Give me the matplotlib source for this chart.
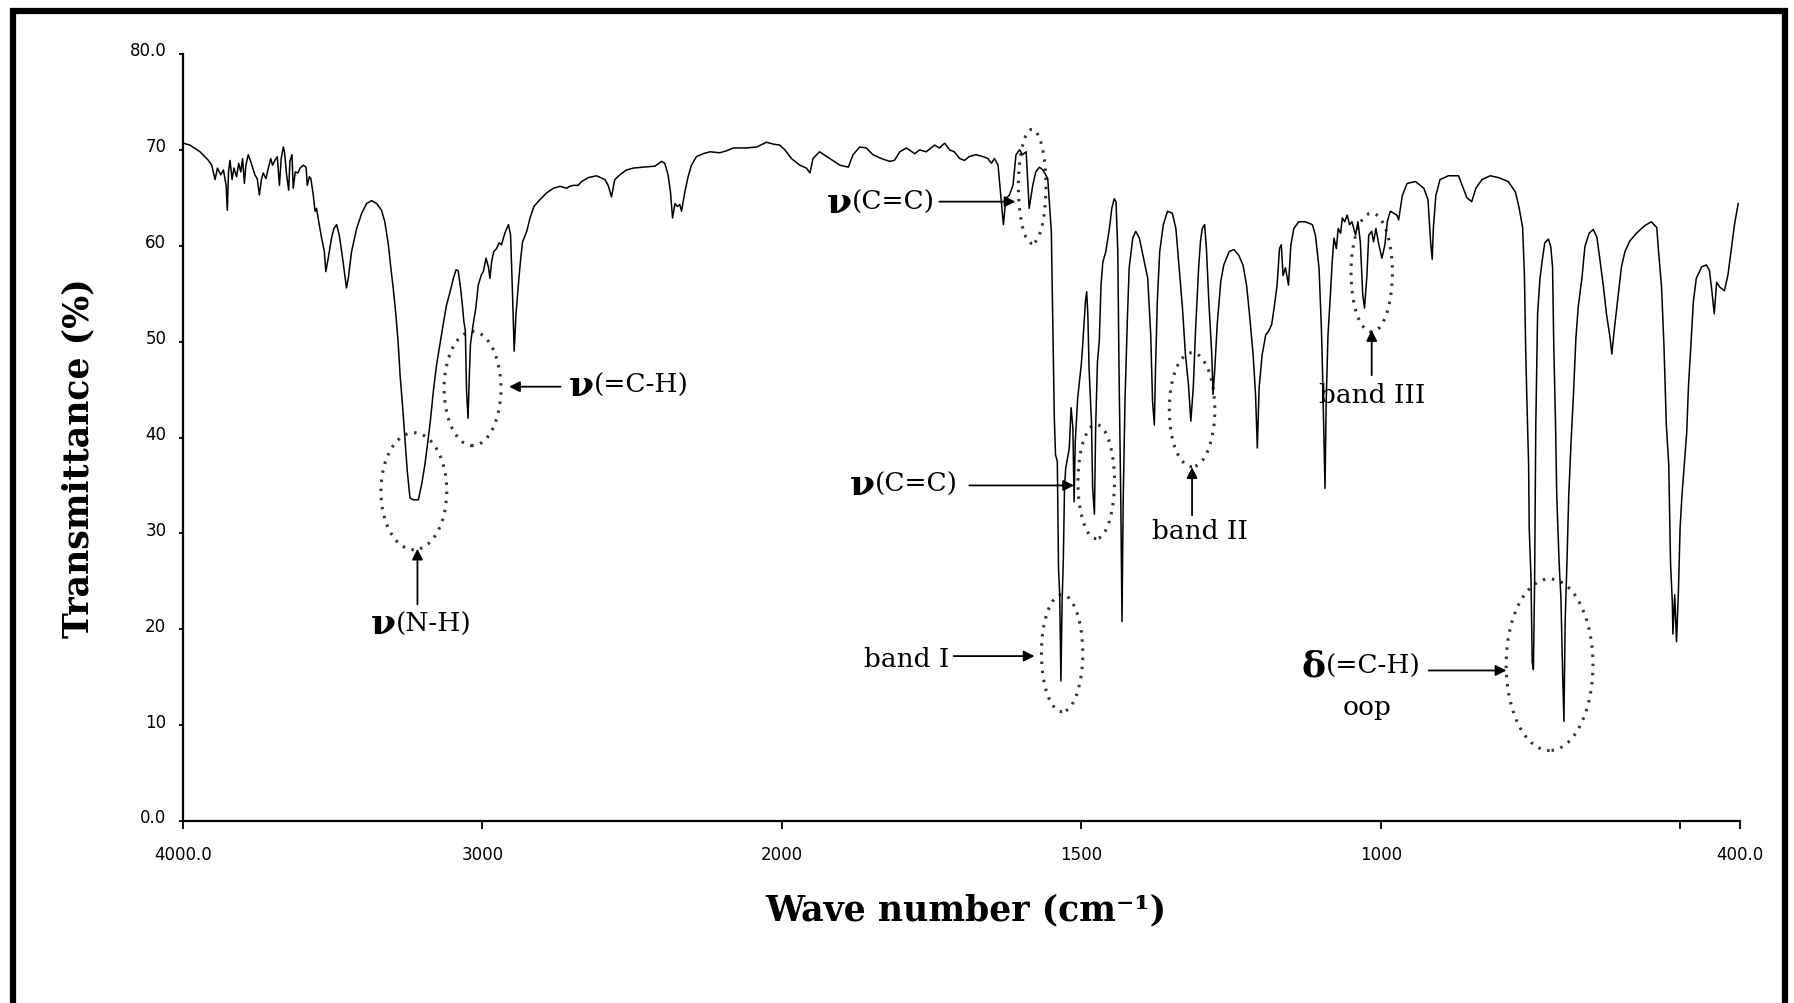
import matplotlib.pyplot as plt
import numpy as np
from matplotlib.patches import Ellipse
from matplotlib.lines import Line2D
from matplotlib.transforms import ScaledTranslation

# IR spectrum (wave number in cm-1, transmittance in %)
wavenumber = [
    3999, 3977, 3943, 3915, 3904, 3893, 3885, 3874, 3865, 3856, 3852, 3848, 3843, 3836, 3830,
    3821, 3814, 3807, 3801, 3795, 3790, 3782, 3774, 3767, 3760, 3752, 3745, 3738, 3732, 3723,
    3715, 3707, 3701, 3693, 3685, 3678, 3672, 3665, 3661, 3654, 3647, 3643, 3636, 3632, 3625,
    3616, 3609, 3598, 3589, 3585, 3578, 3573, 3565, 3559, 3554, 3545, 3537, 3528, 3523, 3515,
    3504, 3496, 3487, 3478, 3467, 3454, 3448, 3437, 3420, 3403, 3387, 3370, 3353, 3337, 3326,
    3314, 3307, 3298, 3289, 3281, 3275, 3267, 3259, 3251, 3242, 3231, 3214, 3203, 3192, 3181,
    3173, 3164, 3153, 3142, 3131, 3120, 3108, 3097, 3088, 3081, 3073, 3066, 3062, 3057, 3053,
    3048, 3044, 3040, 3031, 3022, 3014, 3003, 2997, 2988, 2980, 2975, 2969, 2962, 2953, 2944,
    2936, 2930, 2925, 2919, 2913, 2906, 2899, 2894, 2888, 2880, 2873, 2866, 2852, 2841, 2828,
    2808, 2786, 2763, 2741, 2719, 2708, 2697, 2680, 2669, 2647, 2619,
    2591, 2580, 2569, 2558, 2541, 2519, 2496, 2463, 2424, 2402, 2391, 2380, 2372, 2365, 2357,
    2349, 2341, 2335, 2324, 2313, 2302, 2285, 2263, 2240, 2207, 2185, 2162, 2118, 2084, 2051,
    2029, 2007, 1995, 1984, 1970, 1959, 1953, 1948, 1937, 1920, 1903, 1889, 1881, 1870, 1859,
    1848, 1834, 1820, 1812, 1803, 1792, 1778, 1770, 1759, 1745, 1737, 1728, 1720, 1712, 1703,
    1695, 1687, 1676, 1664, 1656, 1650, 1645, 1639, 1637, 1634, 1630, 1626, 1620, 1614, 1609,
    1603, 1598, 1592, 1587, 1581, 1576, 1570, 1564, 1556, 1550, 1548, 1545,
    1543, 1540, 1538, 1536, 1534, 1532, 1530, 1528, 1526, 1520, 1517, 1514, 1512, 1510, 1506,
    1500, 1498, 1493, 1491, 1489, 1487, 1483, 1481, 1478, 1476, 1473, 1470, 1467, 1464, 1459,
    1453, 1449, 1445, 1442, 1439, 1437, 1434, 1432, 1430, 1427, 1423, 1420, 1414, 1409, 1403,
    1397, 1389, 1384, 1381, 1378, 1376, 1373, 1369, 1363, 1356, 1348, 1342, 1337, 1331, 1326,
    1321, 1317, 1313, 1309, 1304, 1301, 1298, 1294, 1291, 1287, 1282, 1280, 1277, 1273, 1267,
    1262, 1253, 1245, 1237, 1230, 1224, 1219, 1213, 1209, 1206, 1203, 1198, 1192, 1187, 1182,
    1178, 1173, 1169, 1166, 1163, 1159, 1154, 1150, 1145, 1137, 1126, 1114, 1109, 1103, 1099,
    1097, 1093, 1091, 1088, 1084, 1081, 1078, 1074, 1071, 1067, 1064, 1060, 1056, 1052, 1048,
    1042, 1038, 1034, 1030, 1027, 1023, 1020, 1015, 1012, 1008, 1003, 998, 993, 989, 984, 973,
    970, 964, 956, 942, 928, 921, 917, 914, 912, 908, 901, 887, 870, 862, 856,
    848, 841, 831, 817, 803, 787, 775, 769, 763, 760, 758, 756, 753, 752, 749,
    747, 745, 743, 741, 738, 734, 730, 726, 720, 716, 713, 711, 708, 706, 702,
    699, 696, 694, 692, 689, 686, 682, 678, 674, 670, 664, 659, 652, 645, 639,
    634, 628, 623, 617, 614, 610, 604, 598, 592, 584, 573, 559, 548, 539, 536,
    531, 527, 523, 519, 516, 513, 512, 509, 506, 503, 500, 497, 493, 489, 486,
    482, 478, 473, 464, 456, 451, 447, 443, 439, 434, 426, 420, 414, 409, 403,
]
transmittance = [
    70.7, 70.5, 69.8, 68.9, 68.4, 66.9, 68.1, 67.4, 67.9, 66.3, 63.7, 67.7, 68.9, 66.9, 68.1,
    67.2, 68.6, 67.7, 69.1, 66.5, 68.4, 69.5, 68.8, 68.1, 67.4, 67.0, 65.3, 66.9, 67.6, 67.0,
    68.1, 69.1, 68.4, 68.9, 69.3, 66.3, 69.1, 70.3, 69.8, 67.4, 65.8, 68.8, 69.5, 66.0, 67.7,
    67.6, 68.1, 68.4, 68.2, 66.3, 67.2, 67.0, 65.3, 63.6, 63.9, 62.2, 60.8, 59.4, 57.3, 58.7,
    60.8, 61.8, 62.2, 61.1, 58.7, 55.6, 56.6, 59.4, 61.8, 63.4, 64.4, 64.7, 64.4, 63.7, 62.5,
    60.1, 58.0, 55.6, 52.8, 49.7, 46.5, 43.4, 39.9, 36.5, 33.7, 33.5, 33.5, 35.1, 37.2, 39.9,
    42.0, 44.8, 47.6, 49.7, 51.8, 53.8, 55.2, 56.6, 57.5, 57.4, 55.6, 53.5, 52.1, 51.1, 44.8,
    42.0, 46.2, 49.7, 51.8, 53.5, 55.9, 57.0, 57.3, 58.7, 57.8, 56.6, 58.4, 59.4, 59.7, 60.3,
    60.1, 60.8, 61.3, 61.8, 62.2, 61.1, 54.5, 49.0, 52.8, 55.9, 58.4, 60.4, 61.5, 62.9, 64.1,
    64.8, 65.5, 66.0, 66.2, 66.0, 66.2, 66.3, 66.3, 66.7, 67.1, 67.3,
    66.9, 66.3, 65.1, 66.9, 67.4, 67.9, 68.1, 68.2, 68.3, 68.8, 68.6, 67.4, 65.6, 62.9, 64.4,
    64.1, 64.3, 63.6, 65.6, 67.2, 68.4, 69.3, 69.6, 69.8, 69.7, 69.9, 70.2, 70.2, 70.3, 70.8,
    70.6, 70.5, 70.0, 69.1, 68.4, 68.1, 67.6, 69.1, 69.8, 69.1, 68.4, 68.2, 69.5, 70.3, 70.2,
    69.5, 69.1, 68.8, 68.9, 69.8, 70.2, 69.6, 70.0, 69.8, 70.5, 70.2, 70.7, 70.0, 69.8, 69.1,
    68.9, 69.3, 69.5, 69.3, 69.1, 68.6, 69.1, 68.4, 67.0, 64.9, 62.2, 64.9, 65.3, 66.3, 69.5,
    70.0, 69.5, 69.8, 63.9, 66.3, 67.7, 68.2, 67.9, 67.0, 61.5, 53.5, 42.0,
    38.2, 37.5, 26.4, 23.6, 14.6, 22.9, 27.1, 34.7, 36.8, 38.9, 43.1, 41.0, 33.3, 39.6, 44.1,
    47.6, 49.3, 54.2, 55.2, 52.8, 47.2, 41.7, 34.7, 32.0, 41.0, 47.9, 50.0, 55.9, 58.3, 59.4,
    61.8, 63.9, 64.9, 64.6, 59.4, 47.2, 33.4, 20.8, 33.4, 43.8, 52.4, 57.7, 60.8, 61.5, 60.8,
    59.0, 56.6, 50.7, 43.8, 41.3, 47.2, 54.2, 59.4, 62.2, 63.6, 63.4, 61.8, 58.0, 53.5, 48.6,
    45.5, 41.7, 45.2, 51.4, 57.7, 60.4, 61.8, 62.2, 59.7, 54.2, 48.6, 44.5, 47.2, 51.8, 56.3,
    58.0, 59.4, 59.6, 59.0, 58.0, 55.9, 52.8, 48.6, 44.5, 38.9, 45.2, 48.6, 50.7, 51.1, 51.8,
    53.5, 55.9, 59.7, 60.1, 56.9, 57.7, 55.9, 60.1, 61.8, 62.5, 62.5, 62.2, 61.1, 57.7, 51.4,
    46.5, 34.7, 43.8, 50.7, 54.9, 58.3, 60.8, 59.7, 61.8, 61.3, 62.9, 62.5, 63.2, 62.2, 62.5,
    61.1, 62.5, 60.4, 54.9, 53.5, 56.9, 61.1, 61.5, 60.4, 61.8, 60.1, 58.7, 60.1, 62.5, 63.6, 63.2,
    62.7, 65.2, 66.5, 66.7, 66.0, 64.8, 60.7, 58.6, 61.9, 65.2, 66.9, 67.3, 67.3, 66.0, 65.0,
    64.6, 66.0, 66.9, 67.3, 67.1, 66.7, 65.6, 64.0, 61.9, 57.0, 49.6, 44.2, 37.2, 30.6, 25.3,
    16.6, 15.8, 24.9, 41.3, 52.9, 56.6, 58.6, 60.3, 60.7, 59.9, 57.8, 49.6, 41.3, 33.9, 26.9,
    23.2, 15.0, 10.4, 20.7, 26.9, 33.9, 39.7, 44.6, 50.4, 53.7, 56.6, 59.9, 61.3, 61.7, 60.9,
    58.6, 55.7, 52.9, 50.4, 48.7, 51.2, 54.5, 57.8, 59.4, 60.5, 61.3, 62.1, 62.5, 61.9, 59.4,
    55.7, 49.6, 41.3, 37.2, 26.9, 22.8, 19.5, 23.6, 18.7, 23.6, 30.6, 33.9, 37.2, 40.5, 45.4,
    49.6, 54.1, 56.6, 57.8, 58.0, 57.4, 55.3, 52.9, 56.2, 55.7, 55.3, 57.0, 59.9, 62.3, 64.4,
]

x_ticks = [4000, 3000, 2000, 1500, 1000, 500, 400]
x_tick_labels = ["4000.0", "3000", "2000", "1500", "1000", "", "400.0"]
y_ticks = [0, 10, 20, 30, 40, 50, 60, 70, 80]
y_tick_labels = ["0.0", "10", "20", "30", "40", "50", "60", "70", "80.0"]


# the instrument halves the scale below 2000 cm-1
def forward(w):
    w = np.asarray(w, dtype=float)
    return np.where(w >= 2000, w, 2 * w - 2000)


def inverse(u):
    u = np.asarray(u, dtype=float)
    return np.where(u >= 2000, u, (u + 2000) / 2)


fig = plt.figure(figsize=(17.94, 10.04), dpi=100)
ax = fig.add_axes([183 / 1794, 1 - 822 / 1004, (1740 - 183) / 1794, (822 - 55) / 1004])
ax.set_xscale('function', functions=(forward, inverse))
ax.plot(wavenumber, transmittance, color='black', lw=1.1)
ax.set_xlim(4000, 400)
ax.set_ylim(0, 80)

for s in ['top', 'right']:
    ax.spines[s].set_visible(False)
for s in ['left', 'bottom']:
    ax.spines[s].set_linewidth(1.6)

tick_font = dict(family='DejaVu Sans', size=12)
ax.set_xticks(x_ticks)
ax.set_xticklabels(x_tick_labels, **tick_font)
ax.set_yticks(y_ticks)
ax.set_yticklabels(y_tick_labels, **tick_font)
ax.minorticks_off()
ax.tick_params(axis='x', direction='out', length=6, width=1.3, pad=11)
ax.tick_params(axis='y', direction='out', length=3, width=1.3, pad=9)
# y labels sit a little above their ticks in the original
for lbl in ax.get_yticklabels():
    lbl.set_transform(lbl.get_transform() + ScaledTranslation(0, 4 / 72, fig.dpi_scale_trans))

label_font = dict(family='DejaVu Serif', weight='bold', size=25)
fig.text(966 / 1794, 1 - 910 / 1004, 'Wave number (cm⁻¹)', ha='center', va='center', **label_font)
fig.text(78 / 1794, 1 - 458 / 1004, 'Transmittance (%)', ha='center', va='center',
         rotation=90, **label_font)

# dotted ellipses round the bands: centre (cm-1, %), width (cm-1), height (%)
ellipses = [
    (3229, 34.4, 220, 12.2),
    (3033, 45.1, 190, 11.9),
    (1582, 66.2, 46, 11.9),
    (1475, 35.4, 61, 11.9),
    (1532, 17.5, 69, 12.2),
    (1315, 42.9, 76, 11.9),
    (1015, 57.2, 69, 12.4),
    (718, 16.3, 145, 17.9),
]
for cx, cy, ew, eh in ellipses:
    ax.add_patch(Ellipse((cx, cy), ew, eh, fill=False, edgecolor='#333333',
                         lw=2.2, linestyle=(0, (0.8, 2.2))))

sym_font = dict(family='DejaVu Serif', weight='bold', size=26)
txt_font = dict(family='DejaVu Serif', size=19)
arrow = dict(arrowstyle='-|>', color='black', lw=1.3, mutation_scale=16,
             shrinkA=0, shrinkB=0)


def label(sym, txt, w, t):
    ax.text(w, t, sym, ha='right', va='center', **sym_font)
    ax.text(w, t, txt, ha='left', va='center', **txt_font)


label('ν', '(N-H)', 3289, 20.6)
ax.annotate('', xy=(3217, 28.4), xytext=(3217, 22.6), arrowprops=arrow)

label('ν', '(=C-H)', 2628, 45.5)
ax.annotate('', xy=(2911, 45.3), xytext=(2739, 45.3), arrowprops=arrow)

label('ν', '(C=C)', 1883, 64.6)
ax.annotate('', xy=(1610, 64.6), xytext=(1737, 64.6), arrowprops=arrow)

label('ν', '(C=C)', 1845, 35.2)
ax.annotate('', xy=(1512, 35.0), xytext=(1687, 35.0), arrowprops=arrow)

ax.text(1720, 17.0, 'band I', ha='right', va='center', **txt_font)
ax.annotate('', xy=(1578, 17.2), xytext=(1713, 17.2), arrowprops=arrow)

ax.text(1302, 30.3, 'band II', ha='center', va='center', **txt_font)
ax.annotate('', xy=(1315, 36.9), xytext=(1315, 31.9), arrowprops=arrow)

ax.text(1015, 44.5, 'band III', ha='center', va='center', **txt_font)
ax.annotate('', xy=(1015, 51.2), xytext=(1015, 46.5), arrowprops=arrow)

label('δ', '(=C-H)', 1092, 16.2)
ax.text(1023, 11.9, 'oop', ha='center', va='center', **txt_font)
ax.annotate('', xy=(790, 15.7), xytext=(920, 15.7), arrowprops=arrow)

# heavy frame round the picture, open at the bottom
x0, x1, y1 = 13 / 1794, 1785 / 1794, 1 - 12 / 1004
fig.add_artist(Line2D([x0, x0, x1, x1], [0, y1, y1, 0], color='black', lw=4.5,
                      solid_joinstyle='miter', transform=fig.transFigure))

fig.savefig('out.png', dpi=100)
